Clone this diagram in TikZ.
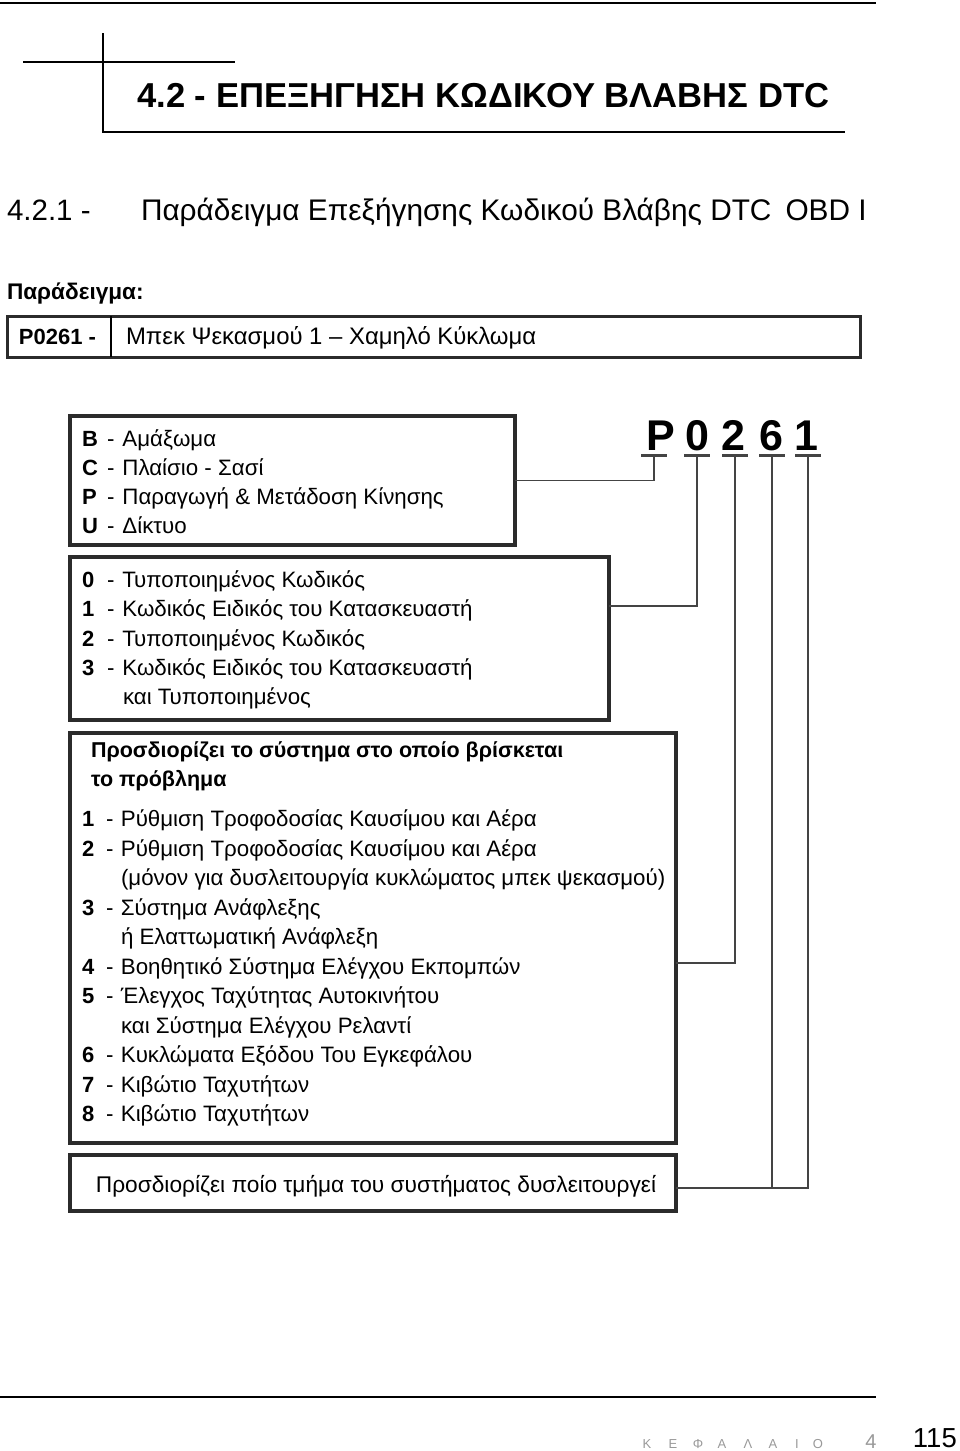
\documentclass[tikz,border=0pt]{standalone}
\usepackage{fontspec}
\setmainfont{Liberation Sans}
\definecolor{boxgray}{HTML}{2B2B2B}
\definecolor{wiregray}{HTML}{444444}
\begin{document}
\begin{tikzpicture}[x=1pt,y=-1pt,
framebox/.style={draw=boxgray,line width=3.5pt,inner sep=0pt,outer sep=0pt,anchor=north west},
wire/.style={draw=wiregray,line width=1.8pt},
tick/.style={draw=wiregray,line width=3pt},
rule/.style={draw=black,line width=2.5pt},
txt/.style={anchor=base west,inner sep=0pt,outer sep=0pt,font=\fontsize{22.3}{26}\selectfont},
key/.style={anchor=base west,inner sep=0pt,outer sep=0pt,font=\fontsize{22}{26}\selectfont\bfseries},
digit/.style={anchor=base,inner sep=0pt,font=\fontsize{43}{48}\selectfont\bfseries},
foot/.style={anchor=base,inner sep=0pt,text=black!40,font=\fontsize{13}{15}\selectfont}]
\useasboundingbox (0,0) rectangle (960,1451);

\draw[rule] (0,3) -- (876,3);
\draw[line width=2pt] (103,33) -- (103,132) -- (845,132);
\draw[line width=2pt] (23,62) -- (235,62);
\node[anchor=base west,inner sep=0pt,font=\fontsize{34.6}{38}\selectfont\bfseries] (title) at (137,107) {4.2 - ΕΠΕΞΗΓΗΣΗ ΚΩΔΙΚΟΥ ΒΛΑΒΗΣ DTC};

\node[txt,font=\fontsize{29.5}{32}\selectfont] (secnum) at (7,220) {4.2.1 -};
\node[txt,font=\fontsize{29.8}{32}\selectfont] (sectitle) at (141,220) {Παράδειγμα Επεξήγησης Κωδικού Βλάβης DTC\hspace{14pt}OBD I};
\node[key,font=\fontsize{22.6}{26}\selectfont\bfseries] (exhead) at (7,299) {Παράδειγμα:};

\node[framebox,line width=3pt,minimum width=853pt,minimum height=41pt] (ex) at (7,316) {};
\draw[line width=2pt] (ex.north west) ++(104,0) -- ++(0,41);
\node[key,font=\fontsize{22}{26}\selectfont\bfseries] (excode) at (19,344) {P0261 -};
\node[txt,font=\fontsize{23.9}{26}\selectfont] (exdesc) at (126,344) {Μπεκ Ψεκασμού 1 -- Χαμηλό Κύκλωμα};

\node[framebox,minimum width=445pt,minimum height=129pt] (cat) at (70,416) {};
\node[framebox,minimum width=539pt,minimum height=163pt] (kind) at (70,557) {};
\node[framebox,minimum width=606pt,minimum height=410pt] (sys) at (70,733) {};
\node[framebox,minimum width=606pt,minimum height=56pt] (part) at (70,1155) {};

\foreach \k/\t [count=\i] in {B/Αμάξωμα,C/Πλαίσιο - Σασί,P/Παραγωγή \& Μετάδοση Κίνησης,U/Δίκτυο}
{
\node[key] (catkey\i) at (82,{446+29.3*(\i-1)}) {\k};
\node[txt] (cattxt\i) at (107,{446+29.3*(\i-1)}) {-\hspace{8pt}\t};
}

\foreach \k/\t [count=\i] in {0/Τυποποιημένος Κωδικός,1/Κωδικός Ειδικός του Κατασκευαστή,2/Τυποποιημένος Κωδικός,3/Κωδικός Ειδικός του Κατασκευαστή}
{
\node[key] (kindkey\i) at (82,{587.5+29.3*(\i-1)}) {\k};
\node[txt] (kindtxt\i) at (107,{587.5+29.3*(\i-1)}) {-\hspace{8pt}\t};
}
\node[txt] (kindmore) at (123,704.5) {και Τυποποιημένος};

\node[key,font=\fontsize{21.5}{26}\selectfont\bfseries] (syshead1) at (91,757.5) {Προσδιορίζει το σύστημα στο οποίο βρίσκεται};
\node[key,font=\fontsize{21.5}{26}\selectfont\bfseries] (syshead2) at (91,786.5) {το πρόβλημα};
\foreach \k/\y/\t in {1/826.5/Ρύθμιση Τροφοδοσίας Καυσίμου και Αέρα,2/856/Ρύθμιση Τροφοδοσίας Καυσίμου και Αέρα,3/915/Σύστημα Ανάφλεξης,4/974/Βοηθητικό Σύστημα Ελέγχου Εκπομπών,5/1003.5/Έλεγχος Ταχύτητας Αυτοκινήτου,6/1062.5/Κυκλώματα Εξόδου Του Εγκεφάλου,7/1092/Κιβώτιο Ταχυτήτων,8/1121.5/Κιβώτιο Ταχυτήτων}
{
\node[key] (syskey\k) at (82,\y) {\k};
\node[txt] (systxt\k) at (106,\y) {-\hspace{7.5pt}\t};
}
\node[txt] (sysmore2) at (121,885.5) {(μόνον για δυσλειτουργία κυκλώματος μπεκ ψεκασμού)};
\node[txt] (sysmore3) at (121,944.5) {ή Ελαττωματική Ανάφλεξη};
\node[txt] (sysmore5) at (121,1033) {και Σύστημα Ελέγχου Ρελαντί};

\node[txt,anchor=base,font=\fontsize{22.7}{26}\selectfont] (parttxt) at (376,1192) {Προσδιορίζει ποίο τμήμα του συστήματος δυσλειτουργεί};

\foreach \c/\x [count=\i] in {P/661,0/697,2/733,6/771,1/806}
\node[digit] (code\i) at (\x,450) {\c};
\foreach \x [count=\i] in {654,697,735,772,808}
{
\coordinate (under\i) at (\x,455);
\draw[tick] (under\i) ++(-13,0) -- ++(26,0);
}
\draw[wire] (under1) |- (cat.east);
\draw[wire] (under2) |- (kind.east |- 0,606);
\draw[wire] (under3) |- (sys.east |- 0,963);
\draw[wire] (under4) |- (part.east |- 0,1188);
\draw[wire] (under5) |- (part.east |- 0,1188);

\draw[rule] (0,1397) -- (876,1397);
\foreach \l/\x [count=\i] in {Κ/647,Ε/673,Φ/698,Α/722,Λ/748,Α/773,Ι/797,Ο/818}
\node[foot] (foot\i) at (\x,1448) {\l};
\node[foot,font=\fontsize{20}{22}\selectfont] (chap) at (871,1448) {4};
\node[anchor=base east,inner sep=0pt,font=\fontsize{27.5}{32}\selectfont] (page) at (957,1447) {115};
\end{tikzpicture}
\end{document}
